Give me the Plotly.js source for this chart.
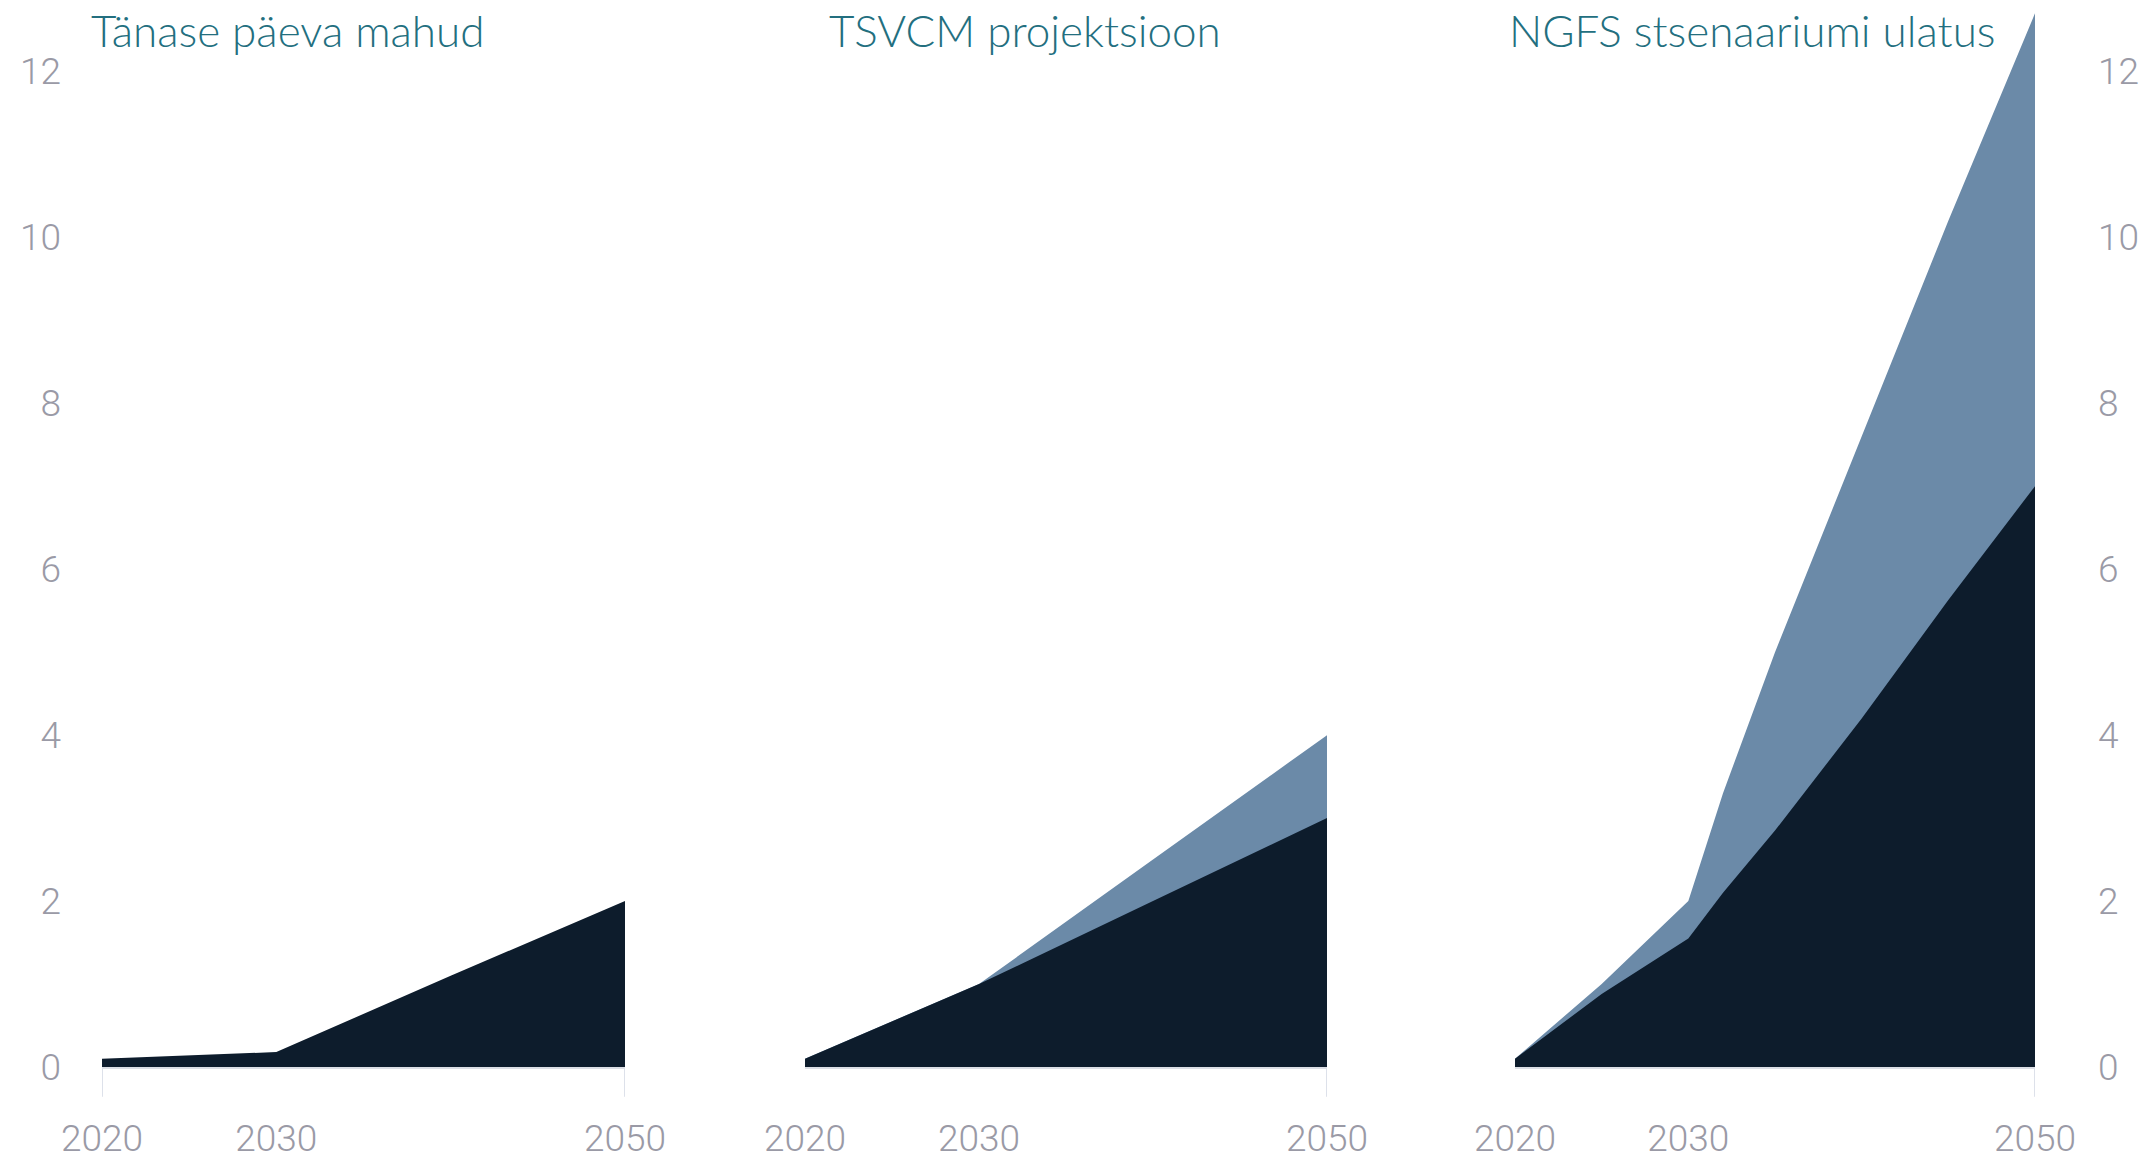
<!DOCTYPE html>
<html>
<head>
<meta charset="utf-8">
<script src="https://cdn.plot.ly/plotly-3.0.1.min.js"></script>
<style>html,body{margin:0;padding:0;background:#fff;}#chart{width:2140px;height:1160px;}</style>
</head>
<body>
<div id="chart"></div>
<script>
// ---- data ----
const panelTitles = ["Tänase päeva mahud", "TSVCM projektsioon", "NGFS stsenaariumi ulatus"];
const xTickVals = [2020, 2030, 2050];
const yTickVals = [0, 2, 4, 6, 8, 10, 12];

// Panel 1: today's volumes
const todayYears = [2020, 2030, 2040, 2050];
const todayBase  = [0.1, 0.18, 1.1, 2.0];
// Panel 2: TSVCM projection
const tsvcmYears = [2020, 2030, 2040, 2050];
const tsvcmLow   = [0.1, 1.0, 2.0, 3.0];
const tsvcmHigh  = [0.1, 1.0, 2.5, 4.0];
// Panel 3: NGFS scenario range
const ngfsYears = [2020, 2025, 2030, 2032, 2035, 2040, 2045, 2050];
const ngfsLow   = [0.1, 0.88, 1.55, 2.1, 2.85, 4.2, 5.63, 7.0];
const ngfsHigh  = [0.1, 1.0, 2.0, 3.3, 5.0, 7.6, 10.2, 12.7];

const DARK = '#0d1c2c';
const LIGHT = '#6b8aa8';

function area(x, y, color, xa, ya) {
  return {x: x, y: y, type: 'scatter', mode: 'lines', fill: 'tozeroy',
    fillcolor: color, line: {width: 0, color: color}, xaxis: xa, yaxis: ya,
    hoverinfo: 'x+y', showlegend: false};
}

const data = [
  area(todayYears, todayBase, DARK, 'x', 'y'),
  area(tsvcmYears, tsvcmHigh, LIGHT, 'x2', 'y2'),
  area(tsvcmYears, tsvcmLow, DARK, 'x2', 'y2'),
  area(ngfsYears, ngfsHigh, LIGHT, 'x3', 'y3'),
  area(ngfsYears, ngfsLow, DARK, 'x3', 'y3')
];

const W = 2140;
const doms = [[102, 625], [805, 1327], [1515, 2035]].map(d => [d[0] / W, d[1] / W]);
const tickFont = {family: 'Roboto, sans-serif', size: 37, color: '#9a9aa6', weight: 300};

function xaxis(i) {
  return {domain: doms[i], range: [2020, 2050], tickvals: xTickVals,
    ticktext: xTickVals.map(String), ticks: '', showgrid: false, zeroline: false,
    showline: true, linecolor: '#dcdfe6', linewidth: 2, tickfont: tickFont,
    ticklabelstandoff: 38, anchor: i === 0 ? 'y' : 'y' + (i + 1), fixedrange: true};
}
function yaxis(i) {
  const a = {range: [0, 12.8], tickvals: yTickVals, showgrid: false, zeroline: false,
    showline: false, ticks: '', tickfont: tickFont, fixedrange: true,
    anchor: i === 0 ? 'x' : 'x' + (i + 1), showticklabels: i !== 1};
  if (i === 0) { a.side = 'left'; a.ticklabelstandoff = 40; }
  if (i === 2) { a.side = 'right'; a.ticklabelstandoff = 62; }
  if (i > 0) a.matches = 'y';
  return a;
}

const titleX = [89, 827, 1507];
const annotations = panelTitles.map((t, i) => ({
  text: t, xref: 'paper', yref: 'paper', x: titleX[i] / W, xanchor: 'left',
  y: (1067 - 30) / 1062, yanchor: 'middle', showarrow: false,
  font: {family: 'Lato, sans-serif', size: 44, color: '#236f7f', weight: 300}
}));

const shapes = [];
const tickMarks = [['x', 2020], ['x', 2050], ['x2', 2050], ['x3', 2050]];
tickMarks.forEach(t => shapes.push({type: 'line', xref: t[0], yref: 'paper',
  x0: t[1], x1: t[1], y0: -0.028, y1: 0, line: {color: '#dde1ea', width: 2}}));

const layout = {
  width: 2140, height: 1160,
  margin: {l: 0, r: 0, t: 5, b: 93},
  paper_bgcolor: '#ffffff', plot_bgcolor: 'rgba(0,0,0,0)',
  xaxis: xaxis(0), xaxis2: xaxis(1), xaxis3: xaxis(2),
  yaxis: yaxis(0), yaxis2: yaxis(1), yaxis3: yaxis(2),
  annotations: annotations, shapes: shapes, showlegend: false
};

Plotly.newPlot('chart', data, layout, {displayModeBar: false, staticPlot: true});
</script>
</body>
</html>
